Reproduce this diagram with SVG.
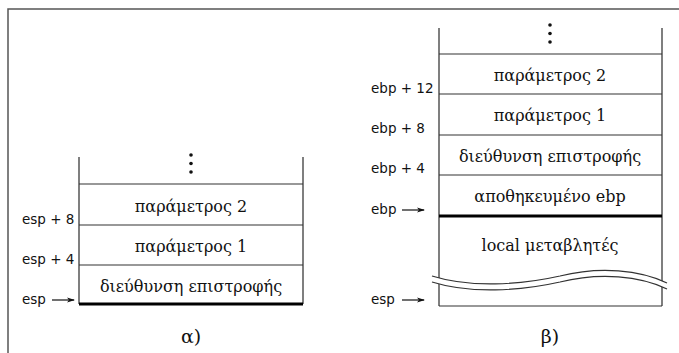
<svg xmlns="http://www.w3.org/2000/svg" width="679" height="353" viewBox="0 0 679 353">
<defs>
<marker id="ah" markerWidth="8" markerHeight="6" refX="7" refY="3" orient="auto" markerUnits="userSpaceOnUse">
<path d="M0,0.5 L8,3 L0,5.5 L2,3 Z" fill="#111"/>
</marker>
</defs>
<style>
.frame{stroke:#555;stroke-width:1.5;fill:none}
.side{stroke:#555;stroke-width:1.5;fill:none}
.row{stroke:#333;stroke-width:1.2;fill:none}
.thick{stroke:#000;stroke-width:3;fill:none}
.cell{font-family:"DejaVu Serif","Liberation Serif",serif;font-size:16px;fill:#111;text-anchor:middle}
.lbl{font-family:"DejaVu Sans","Liberation Sans",sans-serif;font-size:13.5px;fill:#111}
.cap{font-family:"DejaVu Serif","Liberation Serif",serif;font-size:19px;fill:#111;text-anchor:middle}
.arr{stroke:#111;stroke-width:1.2;fill:none}
.dot{fill:#111}
</style>
<rect width="679" height="353" fill="#fff"/>
<path class="frame" d="M8,353 V9 H679"/>

<g id="stack-a">
<path class="side" d="M79,157 V304 M303,157 V304"/>
<circle class="dot" cx="191" cy="155" r="1.8"/>
<circle class="dot" cx="191" cy="163.5" r="1.8"/>
<circle class="dot" cx="191" cy="172" r="1.8"/>
<path class="row" d="M79,184 H303 M79,225 H303 M79,265 H303"/>
<path class="thick" d="M79,304 H303"/>
</g>
<g id="a-param2"><text class="cell" x="191" y="212">παράμετρος 2</text></g>
<g id="a-param1"><text class="cell" x="191" y="252">παράμετρος 1</text></g>
<g id="a-ret"><text class="cell" x="191" y="292">διεύθυνση επιστροφής</text></g>
<g id="a-labels">
<text class="lbl" x="22" y="224">esp + 8</text>
<text class="lbl" x="22" y="264">esp + 4</text>
<text class="lbl" x="22" y="304">esp</text>
</g>
<text class="cap" x="191" y="343">α)</text>

<g id="stack-b">
<path class="side" d="M439,28 V306 M662,28 V306"/>
<circle class="dot" cx="550" cy="25" r="1.8"/>
<circle class="dot" cx="550" cy="33.5" r="1.8"/>
<circle class="dot" cx="550" cy="42" r="1.8"/>
<path class="row" d="M439,54 H662 M439,94 H662 M439,135 H662 M439,175 H662 M439,306 H662"/>
<path class="thick" d="M439,216 H662"/>
<path d="M432,276 C470,288 520,285 560,276 C600,266 640,270 667,283 L667,289 C640,276 600,272 560,282 C520,291 470,294 432,282 Z" fill="#fff" stroke="none"/>
<path d="M432,276 C470,288 520,285 560,276 C600,266 640,270 667,283" stroke="#333" stroke-width="1.2" fill="none"/>
<path d="M432,282 C470,294 520,291 560,282 C600,272 640,276 667,289" stroke="#333" stroke-width="1.2" fill="none"/>
</g>
<g id="b-param2"><text class="cell" x="550" y="81">παράμετρος 2</text></g>
<g id="b-param1"><text class="cell" x="550" y="121">παράμετρος 1</text></g>
<g id="b-ret"><text class="cell" x="550" y="162">διεύθυνση επιστροφής</text></g>
<g id="b-ebp"><text class="cell" x="550" y="202">αποθηκευμένο ebp</text></g>
<g id="b-local"><text class="cell" x="550" y="251">local μεταβλητές</text></g>
<g id="b-labels">
<text class="lbl" x="371" y="93">ebp + 12</text>
<text class="lbl" x="371" y="133">ebp + 8</text>
<text class="lbl" x="371" y="173">ebp + 4</text>
<text class="lbl" x="371" y="214">ebp</text>
<text class="lbl" x="371" y="304">esp</text>
</g>
<text class="cap" x="550" y="343">β)</text>

<g id="connectors">
<path class="arr" d="M52,300 H74" marker-end="url(#ah)"/>
<path class="arr" d="M402,210 H424" marker-end="url(#ah)"/>
<path class="arr" d="M402,300 H424" marker-end="url(#ah)"/>
</g>
</svg>
